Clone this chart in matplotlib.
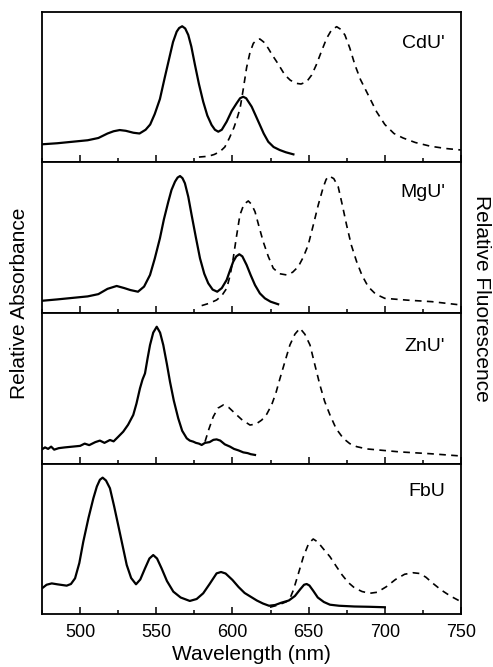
import matplotlib
matplotlib.use("Agg")
import matplotlib.pyplot as plt
from matplotlib.ticker import MultipleLocator

plt.rcParams['font.family'] = ['Liberation Sans', 'DejaVu Sans']

labels = ["CdU'", "MgU'", "ZnU'", "FbU"]
label_y = [0.79, 0.80, 0.777, 0.815]

# CdU'
cd_abs_wl = [475, 485, 495, 505, 512, 518, 522, 526, 530, 535, 539, 543, 546, 549, 552.4, 555.5, 559, 561, 563.4, 565, 567, 569, 571, 573, 575.4, 578, 580.8, 583.5, 586.3, 588.5, 590.7, 593, 596.2, 599.5, 602.7, 605, 607, 609, 612.6, 615, 618, 620.5, 623.5, 627, 631, 635, 640]
cd_abs = [0.118, 0.125, 0.135, 0.145, 0.16, 0.19, 0.205, 0.213, 0.208, 0.195, 0.19, 0.215, 0.25, 0.32, 0.42, 0.56, 0.713, 0.8, 0.869, 0.893, 0.905, 0.89, 0.847, 0.77, 0.647, 0.52, 0.402, 0.31, 0.247, 0.215, 0.202, 0.215, 0.269, 0.34, 0.391, 0.425, 0.435, 0.425, 0.369, 0.315, 0.247, 0.19, 0.135, 0.1, 0.08, 0.065, 0.051]
cd_fl_wl = [578, 584, 588, 591.8, 595, 598, 601, 603, 605, 607, 609.3, 611.5, 613.7, 616, 618, 620.5, 623.5, 626, 629, 632, 634.4, 638, 642, 645, 648.7, 652, 655, 658.5, 661.8, 665, 668.4, 671, 673.8, 677, 680.4, 684, 688, 694.6, 700, 706, 712, 720, 730, 740, 750]
cd_fl = [0.033, 0.038, 0.05, 0.069, 0.1, 0.16, 0.23, 0.29, 0.358, 0.48, 0.63, 0.73, 0.791, 0.815, 0.82, 0.8, 0.758, 0.715, 0.669, 0.62, 0.58, 0.545, 0.524, 0.52, 0.535, 0.58, 0.647, 0.74, 0.824, 0.88, 0.902, 0.885, 0.847, 0.76, 0.647, 0.55, 0.469, 0.335, 0.25, 0.19, 0.16, 0.13, 0.105, 0.09, 0.08]

# MgU'
mg_abs_wl = [475, 485, 495, 505, 512, 518, 524, 529, 533, 538, 542, 545.9, 549, 552.4, 555, 557.9, 560, 562.3, 564, 565.6, 567.2, 568.8, 571, 573.2, 576, 578.7, 581.5, 584.1, 587, 590, 593, 596.2, 598.5, 600.5, 602.5, 604.5, 606.5, 609.3, 612, 614.8, 618, 621.3, 625, 630]
mg_abs = [0.081, 0.09, 0.1, 0.11, 0.125, 0.16, 0.179, 0.165, 0.152, 0.141, 0.175, 0.252, 0.36, 0.495, 0.62, 0.737, 0.815, 0.87, 0.897, 0.907, 0.893, 0.859, 0.77, 0.649, 0.5, 0.362, 0.26, 0.197, 0.155, 0.141, 0.165, 0.219, 0.285, 0.34, 0.375, 0.389, 0.375, 0.318, 0.25, 0.185, 0.13, 0.097, 0.075, 0.058]
mg_fl_wl = [579.8, 585, 589.6, 593, 596.2, 598.5, 600.5, 602.7, 604.9, 607.5, 610.4, 612.5, 614.8, 617.5, 620.2, 623.5, 626.8, 631, 635.6, 639.5, 643.2, 646.5, 649.7, 653, 656.3, 659.5, 661.5, 663.5, 666.5, 669.4, 672, 674.9, 678, 681.5, 685, 689.1, 694, 700, 715, 731, 750]
mg_fl = [0.049, 0.065, 0.086, 0.115, 0.163, 0.25, 0.362, 0.51, 0.649, 0.72, 0.742, 0.72, 0.671, 0.57, 0.472, 0.375, 0.296, 0.26, 0.252, 0.27, 0.307, 0.37, 0.45, 0.58, 0.715, 0.83, 0.885, 0.907, 0.89, 0.836, 0.72, 0.583, 0.45, 0.34, 0.25, 0.174, 0.125, 0.097, 0.085, 0.075, 0.053]

# ZnU'
zn_abs_wl = [475, 477, 479, 481, 483, 486, 490, 495, 500, 503, 506, 510, 513, 516, 519.6, 522, 525, 528.3, 531.5, 534.9, 537, 539.3, 541, 542.6, 544.3, 545.9, 548, 550.3, 552.5, 554.6, 557, 559, 561.5, 564.4, 567, 570, 572, 574.3, 576, 578, 579.8, 582, 585, 587.5, 589.6, 592, 595, 598.4, 601, 604, 607.1, 610, 612, 614.8]
zn_abs = [0.097, 0.11, 0.1, 0.115, 0.095, 0.105, 0.11, 0.115, 0.12, 0.135, 0.125, 0.145, 0.155, 0.14, 0.159, 0.15, 0.18, 0.214, 0.26, 0.325, 0.4, 0.501, 0.56, 0.6, 0.7, 0.788, 0.87, 0.909, 0.87, 0.788, 0.66, 0.545, 0.42, 0.303, 0.22, 0.17, 0.155, 0.148, 0.14, 0.135, 0.126, 0.14, 0.145, 0.16, 0.163, 0.155, 0.13, 0.115, 0.1, 0.09, 0.077, 0.072, 0.065, 0.06]
zn_fl_wl = [582, 584.5, 587.4, 590.5, 594, 597.5, 601.6, 606, 611.5, 615.5, 619.2, 622.5, 625.7, 628.5, 631.2, 634.5, 637.7, 641, 644.3, 647.5, 650.9, 654, 657.4, 660.5, 664, 668, 672.7, 677, 681.5, 688, 695.7, 710, 730, 750]
zn_fl = [0.148, 0.23, 0.313, 0.37, 0.391, 0.375, 0.336, 0.295, 0.258, 0.265, 0.291, 0.33, 0.391, 0.47, 0.567, 0.68, 0.788, 0.86, 0.899, 0.86, 0.788, 0.66, 0.523, 0.415, 0.325, 0.235, 0.17, 0.135, 0.115, 0.1, 0.093, 0.08, 0.068, 0.053]

# FbU
fb_abs_wl = [475, 478, 481.4, 485, 491.2, 494, 496.7, 499.5, 502.1, 505.5, 508.7, 511, 513, 514.8, 517, 519.6, 522.3, 525, 527.8, 530.6, 533.5, 536.7, 539.5, 542.6, 545.5, 548, 550.5, 553.5, 557, 561.2, 566, 572, 576.5, 580.8, 585, 589.6, 592.5, 595.5, 600, 604, 608, 612, 616, 620, 624, 628, 632, 637, 641, 644.5, 647, 648.7, 650.5, 653, 656, 660, 664, 670, 680, 690, 700]
fb_abs = [0.171, 0.195, 0.204, 0.198, 0.189, 0.2, 0.238, 0.34, 0.482, 0.64, 0.771, 0.85, 0.895, 0.909, 0.89, 0.838, 0.72, 0.593, 0.46, 0.327, 0.24, 0.198, 0.23, 0.304, 0.37, 0.393, 0.37, 0.304, 0.22, 0.149, 0.11, 0.087, 0.1, 0.138, 0.2, 0.271, 0.28, 0.27, 0.227, 0.18, 0.14, 0.115, 0.09, 0.07, 0.055, 0.06, 0.075, 0.09, 0.12, 0.165, 0.195, 0.2, 0.19, 0.155, 0.11, 0.08, 0.062, 0.055, 0.05, 0.048, 0.045]
fb_fl_wl = [624.6, 630, 635.5, 638, 640, 643, 646.5, 650, 653, 656, 660, 664, 668, 672, 676, 680, 685, 690, 695, 701, 707, 713, 718.5, 723, 727, 731.6, 737, 743, 750]
fb_fl = [0.045, 0.06, 0.082, 0.11, 0.16, 0.26, 0.38, 0.47, 0.5, 0.48, 0.43, 0.382, 0.32, 0.26, 0.21, 0.175, 0.15, 0.138, 0.145, 0.182, 0.23, 0.265, 0.275, 0.27, 0.245, 0.204, 0.16, 0.12, 0.082]

abs_wl = [cd_abs_wl, mg_abs_wl, zn_abs_wl, fb_abs_wl]
abs_val = [cd_abs, mg_abs, zn_abs, fb_abs]
fl_wl = [cd_fl_wl, mg_fl_wl, zn_fl_wl, fb_fl_wl]
fl_val = [cd_fl, mg_fl, zn_fl, fb_fl]

W, H = 493, 667
fig = plt.figure(figsize=(W / 100, H / 100), dpi=100)
panel_px = [(12, 162), (162, 313), (313, 464), (464, 614)]
left_px, right_px = 42, 461

for i, (t, b) in enumerate(panel_px):
    ax = fig.add_axes([left_px / W, 1 - b / H, (right_px - left_px) / W, (b - t) / H])
    ax.plot(abs_wl[i], abs_val[i], color='black', lw=1.6, solid_joinstyle='round')
    ax.plot(fl_wl[i], fl_val[i], color='black', lw=1.2, linestyle=(0, (4, 3.2)))
    ax.set_xlim(475, 750)
    ax.set_ylim(0, 1)
    for s in ax.spines.values():
        s.set_linewidth(1.3)
    ax.set_yticks([])
    ax.xaxis.set_major_locator(MultipleLocator(50))
    ax.xaxis.set_minor_locator(MultipleLocator(25))
    ax.tick_params(axis='x', which='major', direction='in', length=5, width=1.1,
                   labelsize=13, pad=7, top=False)
    ax.tick_params(axis='x', which='minor', direction='in', length=3, width=1.1, top=False)
    if i < 3:
        ax.tick_params(axis='x', labelbottom=False)
    ax.text(0.962, label_y[i], labels[i], transform=ax.transAxes, ha='right', va='center',
            fontsize=14)
    if i == 3:
        ax.set_xlabel('Wavelength (nm)', fontsize=15, labelpad=3)

fig.text(20 / W, 1 - 303 / H, 'Relative Absorbance', rotation=90, ha='center', va='center', fontsize=15)
fig.text(481 / W, 1 - 298 / H, 'Relative Fluorescence', rotation=-90, ha='center', va='center', fontsize=15)

fig.savefig('out.png', dpi=100)
